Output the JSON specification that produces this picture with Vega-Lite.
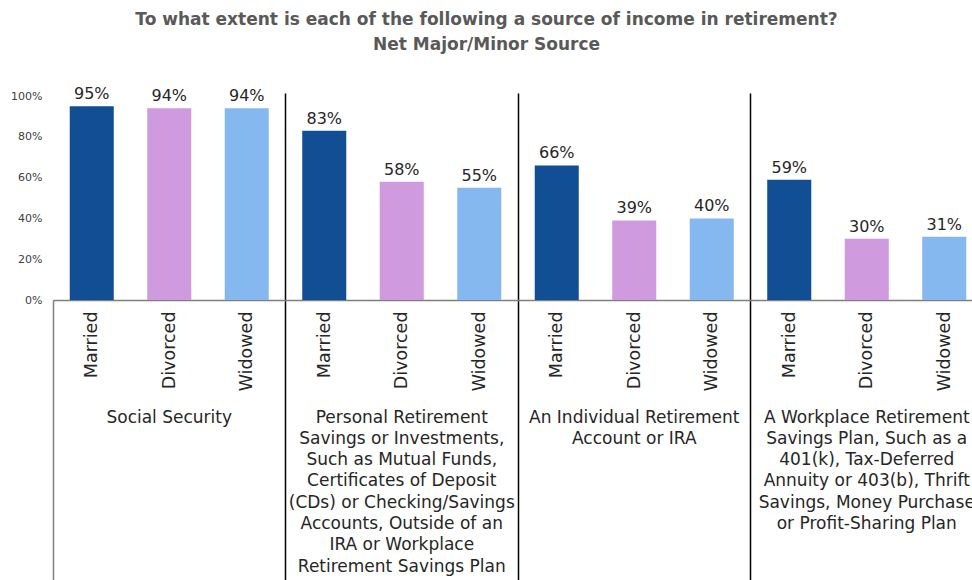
{
  "$schema": "https://vega.github.io/schema/vega-lite/v6.json",
  "width": 919,
  "height": 207,
  "autosize": {"type": "none"},
  "padding": {"left": 53, "top": 93, "right": 0, "bottom": 280},
  "background": "white",
  "config": {"view": {"stroke": null}, "font": "DejaVu Sans"},
  "title": {
    "text": ["To what extent is each of the following a source of income in retirement?", "Net Major/Minor Source"],
    "font": "DejaVu Sans",
    "fontSize": 17,
    "fontWeight": "bold",
    "color": "#595959",
    "lineHeight": 25,
    "anchor": "middle",
    "frame": "group",
    "dx": -26,
    "offset": 32
  },
  "data": {
    "values": [
      {"group": "Social Security", "status": "Married", "value": 0.95},
      {"group": "Social Security", "status": "Divorced", "value": 0.94},
      {"group": "Social Security", "status": "Widowed", "value": 0.94},
      {"group": "Personal Retirement|Savings or Investments,|Such as Mutual Funds,|Certificates of Deposit|(CDs) or Checking/Savings|Accounts, Outside of an|IRA or Workplace|Retirement Savings Plan", "status": "Married", "value": 0.83},
      {"group": "Personal Retirement|Savings or Investments,|Such as Mutual Funds,|Certificates of Deposit|(CDs) or Checking/Savings|Accounts, Outside of an|IRA or Workplace|Retirement Savings Plan", "status": "Divorced", "value": 0.58},
      {"group": "Personal Retirement|Savings or Investments,|Such as Mutual Funds,|Certificates of Deposit|(CDs) or Checking/Savings|Accounts, Outside of an|IRA or Workplace|Retirement Savings Plan", "status": "Widowed", "value": 0.55},
      {"group": "An Individual Retirement|Account or IRA", "status": "Married", "value": 0.66},
      {"group": "An Individual Retirement|Account or IRA", "status": "Divorced", "value": 0.39},
      {"group": "An Individual Retirement|Account or IRA", "status": "Widowed", "value": 0.40},
      {"group": "A Workplace Retirement|Savings Plan, Such as a|401(k), Tax-Deferred|Annuity or 403(b), Thrift|Savings, Money Purchase|or Profit-Sharing Plan", "status": "Married", "value": 0.59},
      {"group": "A Workplace Retirement|Savings Plan, Such as a|401(k), Tax-Deferred|Annuity or 403(b), Thrift|Savings, Money Purchase|or Profit-Sharing Plan", "status": "Divorced", "value": 0.30},
      {"group": "A Workplace Retirement|Savings Plan, Such as a|401(k), Tax-Deferred|Annuity or 403(b), Thrift|Savings, Money Purchase|or Profit-Sharing Plan", "status": "Widowed", "value": 0.31}
    ]
  },
  "transform": [{"calculate": "datum.group + '#' + datum.status", "as": "bar"}],
  "layer": [
    {
      "mark": {"type": "bar"},
      "encoding": {
        "x": {
          "field": "group",
          "type": "nominal",
          "sort": null,
          "scale": {"range": [0, 930], "paddingInner": 0, "paddingOuter": 0},
          "axis": {
            "orient": "bottom",
            "title": null,
            "bandPosition": 0,
            "labelOffset": 0,
            "labelAngle": 0,
            "labelAlign": "center",
            "labelBaseline": "top",
            "labelExpr": "split(datum.label, '|')",
            "labelFontSize": 17,
            "labelLineHeight": 21.3,
            "labelColor": "#262626",
            "labelPadding": -171,
            "labelLimit": 500,
            "labelOverlap": false,
            "labelBound": false,
            "labelFlush": false,
            "domainColor": "#808080",
            "domainWidth": 1.5,
            "ticks": true,
            "tickSize": 280,
            "tickWidth": 1.5,
            "tickColor": {"condition": {"test": "datum.index == 0", "value": "#808080"}, "value": "#000000"},
            "grid": true,
            "gridWidth": 1.5,
            "gridColor": {"condition": {"test": "datum.index == 0", "value": "transparent"}, "value": "#000000"}
          }
        },
        "xOffset": {
          "field": "status",
          "type": "nominal",
          "sort": ["Married", "Divorced", "Widowed"],
          "scale": {"paddingInner": 0.432, "paddingOuter": 0.216}
        },
        "y": {
          "field": "value",
          "type": "quantitative",
          "scale": {"domain": [0, 1.015], "nice": false},
          "axis": {
            "title": null,
            "values": [0, 0.1, 0.2, 0.3, 0.4, 0.5, 0.6, 0.7, 0.8, 0.9, 1],
            "format": ".0%",
            "domain": false,
            "ticks": false,
            "grid": false,
            "labelFontSize": 11,
            "labelColor": "#404040",
            "labelPadding": 11,
            "labelOverlap": false,
            "labelBound": false,
            "labelFlush": false
          }
        },
        "color": {
          "field": "status",
          "type": "nominal",
          "scale": {"domain": ["Married", "Divorced", "Widowed"], "range": ["#114E93", "#CF9BDE", "#86B8F0"]},
          "legend": null
        }
      }
    },
    {
      "mark": {"type": "text", "dy": -7, "baseline": "alphabetic", "fontSize": 16, "color": "#262626"},
      "encoding": {
        "x": {
          "field": "bar",
          "type": "nominal",
          "sort": null,
          "scale": {"range": [0, 930], "paddingInner": 0, "paddingOuter": 0},
          "axis": {
            "orient": "bottom",
            "title": null,
            "labelExpr": "split(datum.label, '#')[1]",
            "labelAngle": -90,
            "labelAlign": "right",
            "labelBaseline": "middle",
            "labelFontSize": 17.5,
            "labelColor": "#262626",
            "labelPadding": 11,
            "labelOverlap": false,
            "ticks": false,
            "domain": false,
            "grid": false
          }
        },
        "y": {"field": "value", "type": "quantitative"},
        "text": {"field": "value", "type": "quantitative", "format": ".0%"}
      }
    }
  ],
  "resolve": {"scale": {"x": "independent"}, "axis": {"x": "independent"}}
}
